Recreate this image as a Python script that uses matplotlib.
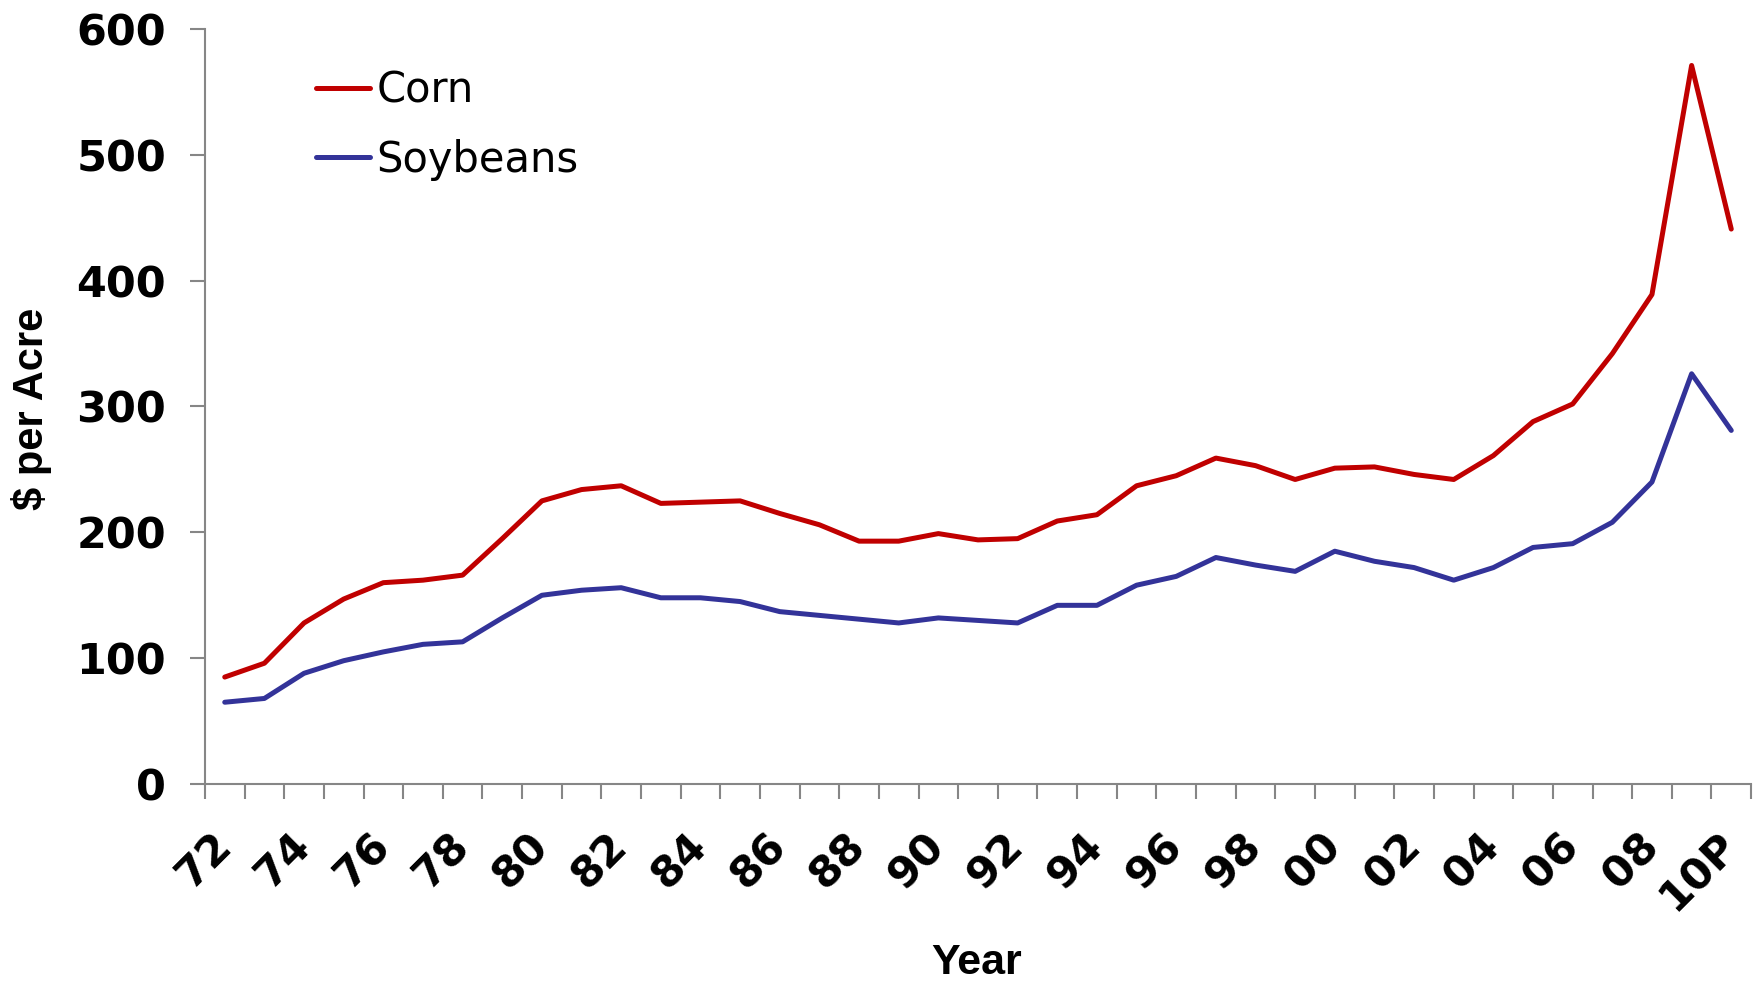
import matplotlib
matplotlib.use("Agg")
import matplotlib.pyplot as plt
import numpy as np

# Per-acre values, 1972-2010 (2010 projected)
years = list(range(1972, 2011))
corn = [85, 96, 128, 147, 160, 162, 166, 195, 225, 234, 237, 223, 224, 225, 215,
        206, 193, 193, 199, 194, 195, 209, 214, 237, 245, 259, 253, 242, 251, 252,
        246, 242, 261, 288, 302, 342, 389, 571, 441]
soybeans = [65, 68, 88, 98, 105, 111, 113, 132, 150, 154, 156, 148, 148, 145, 137,
            134, 131, 128, 132, 130, 128, 142, 142, 158, 165, 180, 174, 169, 185, 177,
            172, 162, 172, 188, 191, 208, 240, 326, 281]
tick_labels = ["72", "74", "76", "78", "80", "82", "84", "86", "88", "90", "92", "94",
               "96", "98", "00", "02", "04", "06", "08", "10P"]
y_ticks = [0, 100, 200, 300, 400, 500, 600]

x = np.arange(len(years))

fig = plt.figure(figsize=(17.59, 9.82), dpi=100)
ax = fig.add_axes([0.1165, 0.2016, 0.879, 0.7689])

ax.plot(x, corn, color="#C00000", lw=3.6, label="Corn", solid_capstyle="round")
ax.plot(x, soybeans, color="#333399", lw=3.6, label="Soybeans", solid_capstyle="round")

ax.set_xlim(-0.5, len(years) - 0.5)
ax.set_ylim(0, 600)

for s in ["top", "right"]:
    ax.spines[s].set_visible(False)
for s in ["left", "bottom"]:
    ax.spines[s].set_color("#868686")
    ax.spines[s].set_linewidth(1.5)

# tick marks between categories, labels every other year
ax.set_xticks(np.arange(-0.5, len(years)), minor=True)
ax.set_xticks(x[::2])
ax.set_xticklabels(tick_labels, rotation=45, ha="right", va="center",
                   rotation_mode="anchor", fontsize=31, fontweight="bold",
                   family="DejaVu Sans")
ax.tick_params(axis="x", which="major", length=0, pad=40)
ax.tick_params(axis="x", which="minor", length=11, width=1.5, color="#868686")

ax.set_yticks(y_ticks)
ax.set_yticklabels([str(v) for v in y_ticks], fontsize=31, fontweight="bold",
                   family="DejaVu Sans")
ax.tick_params(axis="y", length=11, width=1.5, color="#868686", pad=17)

fig.text(0.0179, 0.584, "$ per Acre", rotation=90, ha="center", va="center",
         fontsize=30, fontweight="bold", family="Liberation Sans")
fig.text(0.5555, 0.0194, "Year", ha="center", va="center",
         fontsize=31, fontweight="bold", family="Liberation Sans")

ax.legend(loc="upper left", bbox_to_anchor=(0.1796, 0.929),
          bbox_transform=fig.transFigure, frameon=False, fontsize=30,
          handlelength=1.3, handletextpad=0.15, borderpad=0, borderaxespad=0,
          labelspacing=0.65)

fig.savefig("out.png", dpi=100)
